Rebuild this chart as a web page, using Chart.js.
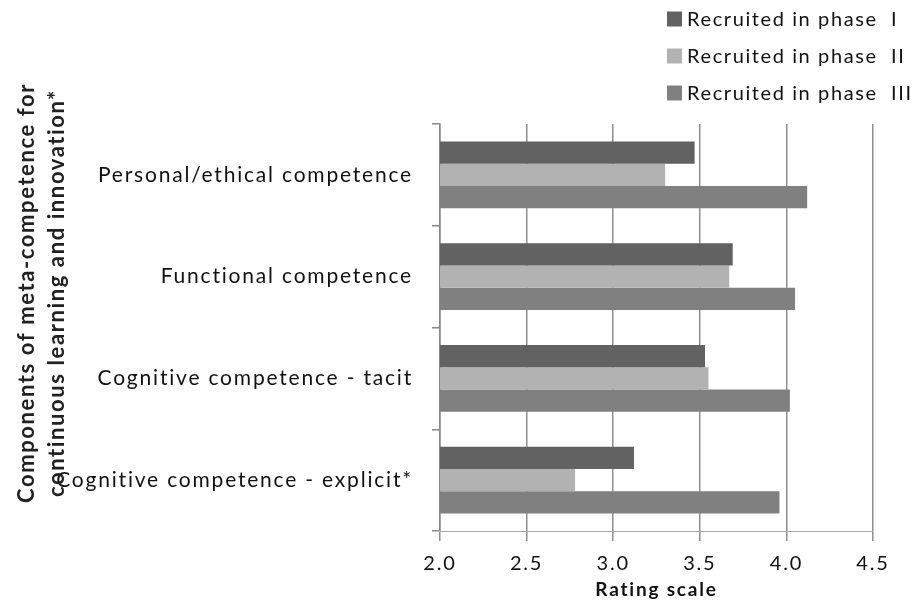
<!DOCTYPE html>
<html>
<head>
<meta charset="utf-8">
<script src="https://cdn.jsdelivr.net/npm/chart.js@4"></script>
<style>
  html, body { margin: 0; padding: 0; background: #ffffff; }
  #wrap { width: 917px; height: 602px; }
</style>
</head>
<body>
<div id="wrap"><canvas id="c" width="917" height="602"></canvas></div>
<script>
// Components rated, top to bottom
const categories = [
  'Personal/ethical competence',
  'Functional competence',
  'Cognitive competence - tacit',
  'Cognitive competence - explicit*'
];
// Mean ratings per recruitment phase
const phase1 = [3.47, 3.69, 3.53, 3.12];
const phase2 = [3.30, 3.67, 3.55, 2.78];
const phase3 = [4.12, 4.05, 4.02, 3.96];
const seriesLabels = ['Recruited in phase  I', 'Recruited in phase  II', 'Recruited in phase  III'];
const seriesColors = ['#626262', '#b2b2b2', '#808080'];
const xTicks = [2.0, 2.5, 3.0, 3.5, 4.0, 4.5];
const xTitle = 'Rating scale';
const yTitleLines = ['Components of meta-competence for', 'continuous learning and innovation*'];

const FONT = 'Lato, "Open Sans", sans-serif';
const SPACING = '1.8px';

// Apply a little letter spacing to every text the chart draws
const spacingPlugin = {
  id: 'spacing',
  beforeDraw(chart) { chart.ctx.letterSpacing = SPACING; }
};

// Stacked legend in the top-right corner
const legendPlugin = {
  id: 'stackLegend',
  afterDraw(chart) {
    const ctx = chart.ctx;
    ctx.save();
    ctx.letterSpacing = '1.6px';
    ctx.font = '20px ' + FONT;
    ctx.textBaseline = 'middle';
    ctx.textAlign = 'left';
    chart.data.datasets.forEach((ds, i) => {
      const cy = 19 + i * 37;
      ctx.fillStyle = ds.backgroundColor;
      ctx.fillRect(667, cy - 7.5, 15, 15);
      ctx.fillStyle = '#111111';
      ctx.fillText(ds.label, 687, cy + 1);
    });
    ctx.restore();
  }
};

// Two-line rotated title for the category axis
const yTitlePlugin = {
  id: 'yTitle',
  afterDraw(chart) {
    const ctx = chart.ctx;
    ctx.save();
    ctx.letterSpacing = '1.6px';
    ctx.font = 'bold 22px ' + FONT;
    ctx.fillStyle = '#222222';
    ctx.textAlign = 'center';
    ctx.textBaseline = 'alphabetic';
    const baselines = [34, 64];
    yTitleLines.forEach((line, i) => {
      ctx.save();
      ctx.translate(baselines[i], 293);
      ctx.rotate(-Math.PI / 2);
      ctx.fillText(line, 0, 0);
      ctx.restore();
    });
    ctx.restore();
  }
};

new Chart(document.getElementById('c'), {
  type: 'bar',
  data: {
    labels: categories,
    datasets: [
      { label: seriesLabels[0], data: phase1, backgroundColor: seriesColors[0] },
      { label: seriesLabels[1], data: phase2, backgroundColor: seriesColors[1] },
      { label: seriesLabels[2], data: phase3, backgroundColor: seriesColors[2] }
    ]
  },
  options: {
    indexAxis: 'y',
    responsive: false,
    animation: false,
    devicePixelRatio: 1,
    categoryPercentage: 0.656,
    barPercentage: 1.0,
    layout: { padding: { top: 124, right: 44, left: 0, bottom: 0 } },
    plugins: {
      legend: { display: false },
      tooltip: { enabled: false }
    },
    scales: {
      x: {
        type: 'linear',
        min: xTicks[0],
        max: xTicks[xTicks.length - 1],
        afterBuildTicks(scale) { scale.ticks = xTicks.map(v => ({ value: v })); },
        afterFit(scale) { scale.height = 71; },
        grid: { color: '#8e8e8e', lineWidth: 1.5, tickLength: 10 },
        border: { display: true, color: '#a8a8a8', width: 1 },
        ticks: {
          color: '#111111',
          font: { family: FONT, size: 20 },
          padding: 11,
          callback: v => Number(v).toFixed(1)
        },
        title: {
          display: true,
          text: xTitle,
          color: '#111111',
          font: { family: FONT, size: 19, weight: 'bold' },
          padding: { top: 0, bottom: 1 }
        }
      },
      y: {
        type: 'category',
        afterFit(scale) { scale.width = 440; },
        grid: { offset: true, drawOnChartArea: false, tickLength: 8, color: '#888888', lineWidth: 1.5 },
        border: { display: true, color: '#888888', width: 1.5 },
        ticks: {
          color: '#111111',
          font: { family: FONT, size: 21 },
          padding: 19
        }
      }
    }
  },
  plugins: [spacingPlugin, legendPlugin, yTitlePlugin]
});
</script>
</body>
</html>
